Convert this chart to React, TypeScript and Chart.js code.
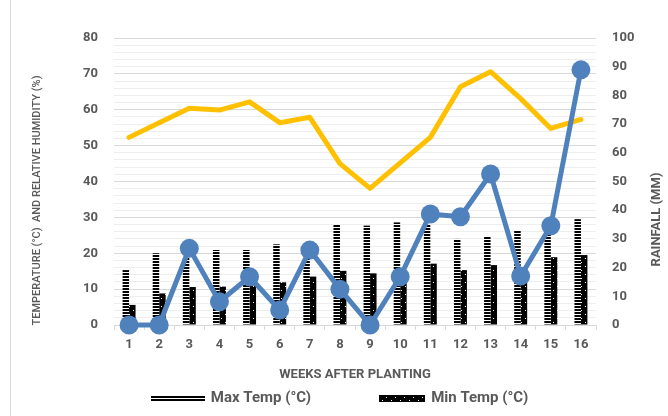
import { useEffect, useRef } from "react";
import { Chart, registerables } from "chart.js";

Chart.register(...registerables);

// Weekly weather record after planting
const weeks = ["1", "2", "3", "4", "5", "6", "7", "8", "9", "10", "11", "12", "13", "14", "15", "16"];
const maxTemp = [15.3, 20.0, 19.0, 20.9, 20.9, 22.5, 20.0, 28.0, 27.7, 28.6, 28.0, 24.0, 24.8, 26.2, 27.0, 29.5];
const minTemp = [5.6, 8.8, 10.6, 10.7, 11.0, 11.9, 13.5, 15.1, 14.4, 13.0, 17.1, 15.3, 16.7, 13.0, 18.9, 19.5];
const rainfall = [0, 0, 26.7, 8.1, 16.8, 5.2, 26.1, 12.5, 0, 16.8, 38.7, 37.7, 52.6, 17.1, 34.6, 88.9];
const humidity = [52.3, 56.4, 60.4, 59.9, 62.2, 56.4, 57.9, 45.0, 38.1, 45.2, 52.3, 66.4, 70.6, 63.1, 54.8, 57.3];

const leftMax = 80;
const leftMajorStep = 10;
const leftMinorStep = 2;
const rightMax = 100;
const rightStep = 10;

const FONT = "Roboto";
const TEXT = "#595959";
const BLUE = "#4F81BD";
const GOLD = "#FFC000";

const leftTitle = "TEMPERATURE (°C)  AND RELATIVE HUMIDITY (%)";
const rightTitle = "RAINFALL (MM)";
const xTitle = "WEEKS AFTER PLANTING";
const maxLabel = "Max Temp (°C)";
const minLabel = "Min Temp (°C)";

function makeCanvas(w: number, h: number, draw: (c: CanvasRenderingContext2D) => void) {
  const c = document.createElement("canvas");
  c.width = w;
  c.height = h;
  const g = c.getContext("2d")!;
  draw(g);
  return c;
}

// horizontal stripes
function stripeTile() {
  return makeCanvas(4, 3, (g) => {
    g.fillStyle = "#ffffff";
    g.fillRect(0, 0, 4, 3);
    g.fillStyle = "#000000";
    g.fillRect(0, 0, 4, 2);
  });
}

// black with sparse white dots
function dotTile() {
  return makeCanvas(8, 8, (g) => {
    g.fillStyle = "#000000";
    g.fillRect(0, 0, 8, 8);
    g.fillStyle = "#ffffff";
    g.fillRect(2, 6, 1, 1);
    g.fillRect(6, 2, 1, 1);
  });
}

function maxIcon() {
  return makeCanvas(54, 5, (c) => {
    c.fillStyle = "#000";
    c.fillRect(0, 0, 54, 2);
    c.fillRect(0, 3, 54, 2);
  });
}

function minIcon() {
  return makeCanvas(46, 7, (c) => {
    c.fillStyle = "#000";
    c.fillRect(0, 0, 46, 7);
    c.fillStyle = "#fff";
    for (let x = 3; x < 46; x += 9) {
      c.fillRect(x, 5, 1, 1);
      c.fillRect(x + 4, 2, 1, 1);
    }
  });
}

// rotated axis titles and the bottom key
const decorations = {
  id: "decorations",
  afterDraw(chart: any) {
    const { ctx, chartArea, scales, width, height } = chart;
    const midY = (chartArea.top + chartArea.bottom) / 2;

    ctx.save();
    ctx.fillStyle = TEXT;
    ctx.textAlign = "center";
    ctx.textBaseline = "middle";
    ctx.font = `500 11px ${FONT}`;
    ctx.translate(scales.y.left + 26, midY + 19);
    ctx.rotate(-Math.PI / 2);
    ctx.fillText(leftTitle, 0, 0);
    ctx.restore();

    ctx.save();
    ctx.fillStyle = TEXT;
    ctx.textAlign = "center";
    ctx.textBaseline = "middle";
    ctx.font = `bold 13px ${FONT}`;
    ctx.translate(scales.y1.right - 11, midY + 38);
    ctx.rotate(-Math.PI / 2);
    ctx.fillText(rightTitle, 0, 0);
    ctx.restore();

    const items = [
      { icon: chart.$maxIcon as HTMLCanvasElement, text: maxLabel },
      { icon: chart.$minIcon as HTMLCanvasElement, text: minLabel },
    ];
    ctx.save();
    ctx.font = `bold 15px ${FONT}`;
    ctx.fillStyle = TEXT;
    ctx.textAlign = "left";
    ctx.textBaseline = "middle";
    const iconGap = 6;
    const itemGap = 68;
    const widths = items.map((it) => it.icon.width + iconGap + ctx.measureText(it.text).width);
    const total = widths.reduce((a, b) => a + b, 0) + itemGap * (items.length - 1);
    let x = width / 2 - total / 2;
    const y = height - 18;
    items.forEach((it, i) => {
      ctx.drawImage(it.icon, Math.round(x), Math.round(y - it.icon.height / 2));
      ctx.fillText(it.text, x + it.icon.width + iconGap, y);
      x += widths[i] + itemGap;
    });
    ctx.restore();
  },
};

export default function App() {
  const ref = useRef<HTMLCanvasElement>(null);

  useEffect(() => {
    const canvas = ref.current!;
    const g = canvas.getContext("2d")!;
    const stripes = g.createPattern(stripeTile(), "repeat")!;
    const dots = g.createPattern(dotTile(), "repeat")!;

    const tickFont = { family: FONT, size: 13, weight: "bold" as const };

    const chart = new Chart(canvas, {
      type: "bar",
      data: {
        labels: weeks,
        datasets: [
          {
            type: "bar",
            label: maxLabel,
            data: maxTemp,
            backgroundColor: stripes,
            borderWidth: 0,
            yAxisID: "y",
            order: 2,
          },
          {
            type: "bar",
            label: minLabel,
            data: minTemp,
            backgroundColor: dots,
            borderWidth: 0,
            yAxisID: "y",
            order: 3,
          },
          {
            type: "line",
            label: "Relative Humidity (%)",
            data: humidity,
            borderColor: GOLD,
            backgroundColor: GOLD,
            borderWidth: 5,
            pointRadius: 0,
            tension: 0,
            borderJoinStyle: "round",
            borderCapStyle: "round",
            yAxisID: "y",
            order: 1,
            clip: false,
          },
          {
            type: "line",
            label: "Rainfall (mm)",
            data: rainfall,
            borderColor: BLUE,
            backgroundColor: BLUE,
            borderWidth: 5,
            pointRadius: 9.5,
            pointBorderWidth: 0,
            pointBackgroundColor: BLUE,
            tension: 0,
            borderJoinStyle: "round",
            yAxisID: "y1",
            order: 0,
            clip: false,
          },
        ] as any,
      },
      options: {
        animation: false,
        responsive: true,
        maintainAspectRatio: false,
        layout: { padding: { top: 38, left: 0, right: 0, bottom: 33 } },
        datasets: {
          bar: { categoryPercentage: 0.43, barPercentage: 1 },
        },
        plugins: {
          tooltip: { enabled: false },
          legend: { display: false },
        },
        scales: {
          x: {
            offset: true,
            grid: {
              display: true,
              offset: true,
              drawOnChartArea: false,
              drawTicks: true,
              tickLength: 5,
              color: "#d9d9d9",
            },
            border: { display: true, color: "#d9d9d9" },
            ticks: { color: TEXT, font: tickFont, padding: 7, maxRotation: 0 },
            title: {
              display: true,
              text: xTitle,
              color: TEXT,
              font: tickFont,
              padding: { top: 4, bottom: 0 },
            },
            afterFit: (s: any) => {
              s.height = 58;
            },
          },
          y: {
            position: "left",
            min: 0,
            max: leftMax,
            grid: {
              drawTicks: false,
              color: (c: any) => (c.tick && c.tick.value % leftMajorStep === 0 ? "#d9d9d9" : "#eeeeee"),
              lineWidth: 1,
            },
            border: { display: false },
            ticks: {
              stepSize: leftMinorStep,
              autoSkip: false,
              padding: 16,
              color: TEXT,
              font: tickFont,
              callback: (v: any) => (Number(v) % leftMajorStep === 0 ? String(v) : ""),
            },
            afterFit: (s: any) => {
              s.width = 103;
            },
          },
          y1: {
            position: "right",
            min: 0,
            max: rightMax,
            grid: { display: false, drawTicks: false },
            border: { display: false },
            ticks: { stepSize: rightStep, padding: 16, color: TEXT, font: tickFont },
            afterFit: (s: any) => {
              s.width = 72;
            },
          },
        },
      },
      plugins: [
        {
          id: "keyIcons",
          beforeInit(c: any) {
            c.$maxIcon = maxIcon();
            c.$minIcon = minIcon();
          },
        },
        decorations,
      ],
    });
    return () => chart.destroy();
  }, []);

  return (
    <div
      style={{
        position: "absolute",
        left: 10,
        top: 0,
        width: 658,
        height: 416,
        borderLeft: "1px solid #d9d9d9",
        boxSizing: "border-box",
        background: "#fff",
      }}
    >
      <canvas ref={ref} />
    </div>
  );
}
